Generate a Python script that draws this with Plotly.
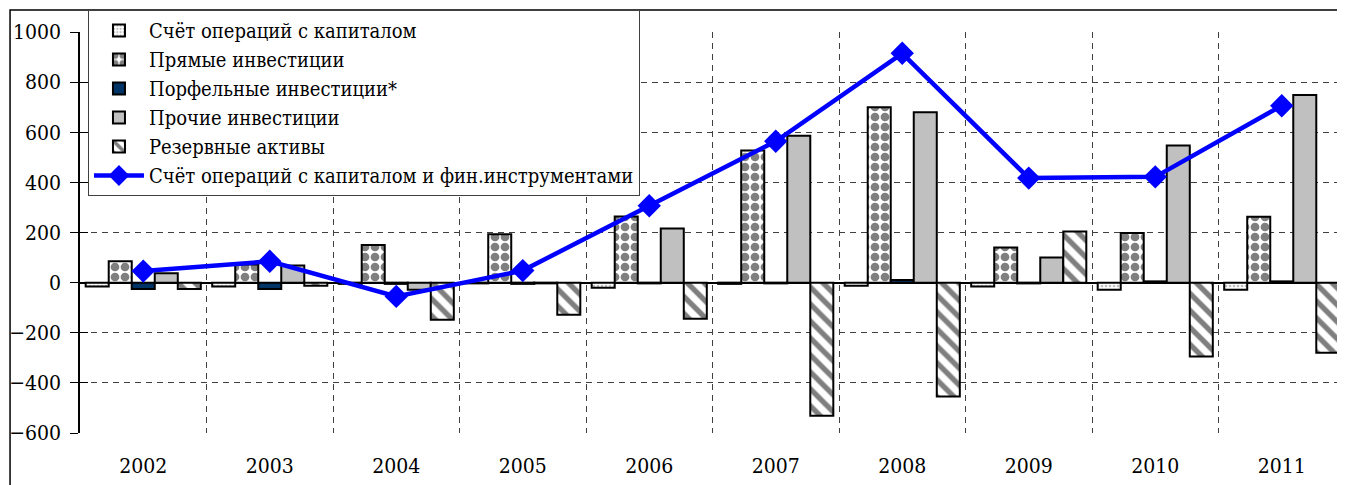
import plotly.graph_objects as go

years = ["2002", "2003", "2004", "2005", "2006", "2007", "2008", "2009", "2010", "2011"]

capital_account = [-15, -15, -5, -3, -20, -5, -12, -15, -28, -28]
direct_inv = [85, 72, 150, 193, 264, 527, 700, 140, 198, 263]
portfolio_inv = [-25, -25, -5, -5, -3, -3, 10, -3, 5, 5]
other_inv = [37, 68, -28, -3, 216, 586, 680, 100, 547, 749]
reserve_assets = [-25, -12, -148, -128, -144, -531, -454, 204, -295, -280]
financial_account = [46, 85, -55, 48, 307, 564, 915, 417, 422, 706]

FONT = "DejaVu Serif Condensed, DejaVu Serif, serif"
OUTLINE = dict(color="black", width=2)

fig = go.Figure()

fig.add_trace(go.Bar(
    x=years, y=capital_account, name="Счёт операций с капиталом",
    marker=dict(color="white", line=OUTLINE,
                pattern=dict(shape=".", fgcolor="#7f7f7f", bgcolor="white", size=4, solidity=0.35)),
))
fig.add_trace(go.Bar(
    x=years, y=direct_inv, name="Прямые инвестиции",
    marker=dict(color="white", line=OUTLINE,
                pattern=dict(shape=".", fgcolor="black", bgcolor="white", size=10, solidity=0.6)),
))
fig.add_trace(go.Bar(
    x=years, y=portfolio_inv, name="Порфельные инвестиции*",
    marker=dict(color="#003366", line=OUTLINE),
))
fig.add_trace(go.Bar(
    x=years, y=other_inv, name="Прочие инвестиции",
    marker=dict(color="#c0c0c0", line=OUTLINE),
))
fig.add_trace(go.Bar(
    x=years, y=reserve_assets, name="Резервные активы",
    marker=dict(color="white", line=OUTLINE,
                pattern=dict(shape="\\", fgcolor="black", bgcolor="white", size=12, solidity=0.45)),
))
fig.add_trace(go.Scatter(
    x=years, y=financial_account, name="Счёт операций с капиталом и фин.инструментами",
    mode="lines+markers",
    line=dict(color="#0000ff", width=4.5),
    marker=dict(symbol="diamond", size=18, color="#0000ff"),
))

# outer chart-area frame
fig.add_shape(type="rect", xref="paper", yref="paper",
              x0=-0.0553, x1=1.05, y0=-0.5, y1=1.0549,
              line=dict(color="black", width=1.5), layer="below")

# the page adds an 8px body margin, so the figure is shifted by 8px
fig.update_layout(
    width=1337, height=477,
    template="plotly_white",
    paper_bgcolor="white", plot_bgcolor="white",
    margin=dict(l=72, r=0, t=24, b=52, autoexpand=False),
    barmode="group", bargap=0.09, bargroupgap=0,
    font=dict(family=FONT, size=21, color="black"),
    legend=dict(x=0.0063, y=1.0549, xanchor="left", yanchor="top",
                bgcolor="white", bordercolor="#404040", borderwidth=1,
                font=dict(family=FONT, size=20), itemwidth=50,
                tracegroupgap=0),
    showlegend=True,
)

fig.update_xaxes(
    type="category", range=[-0.5, 9.5],
    tickson="boundaries", ticks="",
    showgrid=True, gridcolor="#404040", griddash="6px,5px", gridwidth=1,
    showline=False, zeroline=False,
    ticklabelstandoff=18,
    tickfont=dict(family=FONT, size=21),
)
fig.update_yaxes(
    range=[-600, 1000], dtick=200,
    showgrid=True, gridcolor="#404040", griddash="6px,5px", gridwidth=1,
    zeroline=True, zerolinecolor="black", zerolinewidth=2,
    showline=True, linecolor="black", linewidth=1.5,
    ticks="outside", ticklen=8, tickcolor="black", tickwidth=1,
    ticklabelstandoff=5,
    tickfont=dict(family=FONT, size=21),
)
# second, label-less axis so the y ticks cross the axis line like the original
fig.update_layout(yaxis2=dict(
    overlaying="y", side="left", range=[-600, 1000], dtick=200,
    showgrid=False, zeroline=False, showticklabels=False,
    ticks="inside", ticklen=8, tickcolor="black", tickwidth=1,
))
fig.add_trace(go.Scatter(x=[years[0]], y=[None], yaxis="y2", showlegend=False, hoverinfo="skip"))

fig.write_html("out.html")
